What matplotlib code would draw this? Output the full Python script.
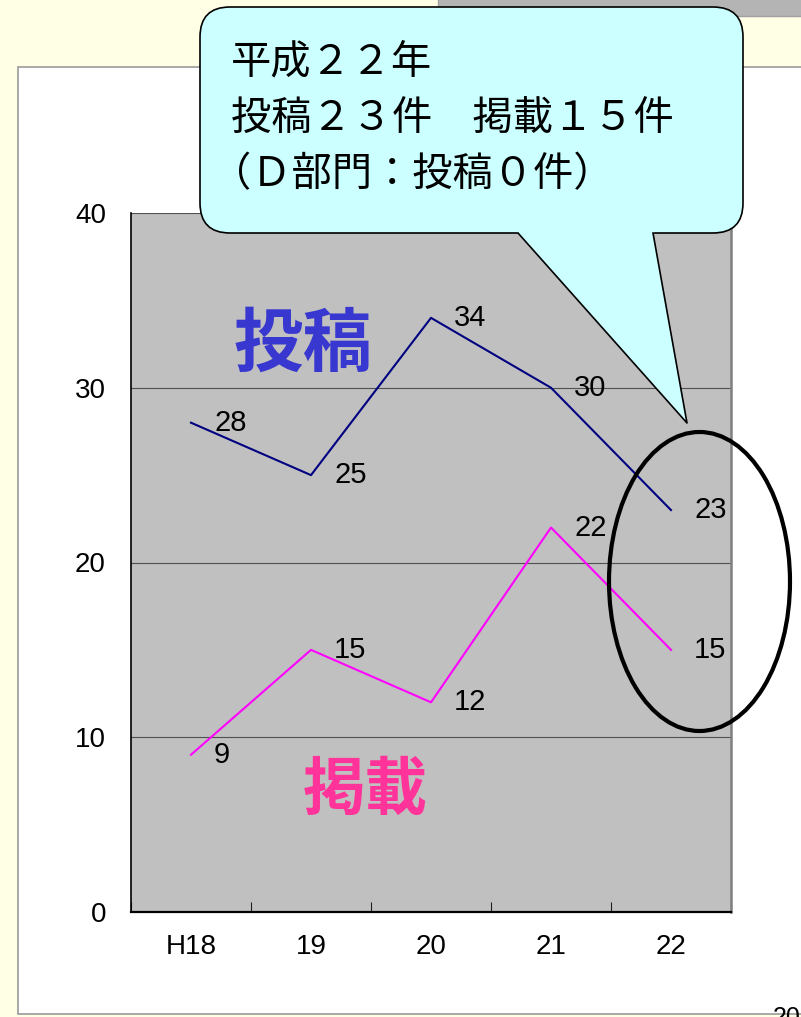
import matplotlib
matplotlib.use("Agg")
import matplotlib.pyplot as plt
from matplotlib.patches import Rectangle, Ellipse, FancyBboxPatch, Polygon

# Data
# ====
years = ['H18', '19', '20', '21', '22']
toko = [28, 25, 34, 30, 23]      # 投稿
keisai = [9, 15, 12, 22, 15]     # 掲載
yticks = [0, 10, 20, 30, 40]

callout_lines = ['平成２２年', '投稿２３件　掲載１５件', '（Ｄ部門：投稿０件）']

W, H = 801, 1017
num_font = ['Liberation Sans', 'DejaVu Sans']
jp_font = ['Noto Sans CJK JP', 'DejaVu Sans']

fig = plt.figure(figsize=(W / 100, H / 100), dpi=100, facecolor='#FFFFE6')

# background layer (pixel coordinates)
bg = fig.add_axes([0, 0, 1, 1], zorder=0)
bg.set_xlim(0, W)
bg.set_ylim(H, 0)
bg.axis('off')
bg.add_patch(Rectangle((438, -2), 370, 18, facecolor='#b4b4b4', edgecolor='#a0a0a0', lw=1))
bg.add_patch(Rectangle((18, 67), 800, 947, facecolor='white', edgecolor='#9a9a9a', lw=1.2))
bg.text(773, 1006, '20', fontsize=18, family=num_font, va='top', ha='left')

# the chart
# =========
left, right, top, bottom = 131, 731, 213, 912
ax = fig.add_axes([left / W, 1 - bottom / H, (right - left) / W, (bottom - top) / H], zorder=1)
ax.set_facecolor('#C0C0C0')
x = range(len(years))
ax.plot(x, toko, color='#000080', lw=1.5, zorder=3)
ax.plot(x, keisai, color='#FF00FF', lw=1.5, zorder=3)

for xi, v in zip(x, toko):
    ax.annotate(str(v), (xi, v), xytext=(23, 0), textcoords='offset pixels',
                ha='left', va='center', fontsize=21, family=num_font)
for xi, v in zip(x, keisai):
    ax.annotate(str(v), (xi, v), xytext=(23, 0), textcoords='offset pixels',
                ha='left', va='center', fontsize=21, family=num_font)

ax.set_xlim(-0.5, len(years) - 0.5)
ax.set_ylim(0, 40)
ax.set_yticks(yticks)
ax.set_yticklabels([str(t) for t in yticks], fontsize=20, family=num_font)
ax.set_xticks(list(x))
ax.set_xticklabels(years, fontsize=20, family=num_font)
ax.set_xticks([i - 0.5 for i in range(len(years) + 1)], minor=True)
ax.tick_params(axis='y', length=0, pad=18)
ax.tick_params(axis='x', which='major', length=0, pad=16)
ax.tick_params(axis='x', which='minor', direction='in', length=7, width=0.8, color='#202020')
ax.yaxis.grid(True, color='#505050', lw=0.8)
ax.set_axisbelow(True)
ax.spines['top'].set_visible(False)
ax.spines['left'].set_color('black')
ax.spines['left'].set_linewidth(1.2)
ax.spines['bottom'].set_color('black')
ax.spines['bottom'].set_linewidth(1.6)
ax.spines['right'].set_color('#808080')
ax.spines['right'].set_linewidth(1.8)

# foreground layer: big labels, ellipse, callout
# ==============================================
fg = fig.add_axes([0, 0, 1, 1], zorder=2)
fg.set_xlim(0, W)
fg.set_ylim(H, 0)
fg.axis('off')
fg.patch.set_alpha(0)

fg.text(303, 345, '投稿', fontsize=50, fontweight='bold', color='#3838D0',
        family=jp_font, ha='center', va='center')
fg.text(365, 790, '掲載', fontsize=45, fontweight='bold', color='#FF3399',
        family=jp_font, ha='center', va='center')

fg.add_patch(Ellipse((699.5, 581.5), 181, 299, fill=False, edgecolor='black', lw=3))

# callout box with tail
fg.add_patch(FancyBboxPatch((200, 7), 543, 226, boxstyle='round,pad=0,rounding_size=30',
                            facecolor='#CCFFFF', edgecolor='black', lw=1.2))
fg.add_patch(Polygon([(516, 230), (518, 233.6), (687, 423), (653, 233.6), (656, 230)],
                     closed=True, facecolor='#CCFFFF', edgecolor='none'))
fg.plot([518, 687, 653], [233, 423, 233], color='black', lw=1.2)
for xpos, y, line in zip([231, 231, 211], [62, 118, 175], callout_lines):
    fg.text(xpos, y, line, fontsize=29, family=jp_font, ha='left', va='center')

fig.savefig('out.png', dpi=100, facecolor=fig.get_facecolor())
